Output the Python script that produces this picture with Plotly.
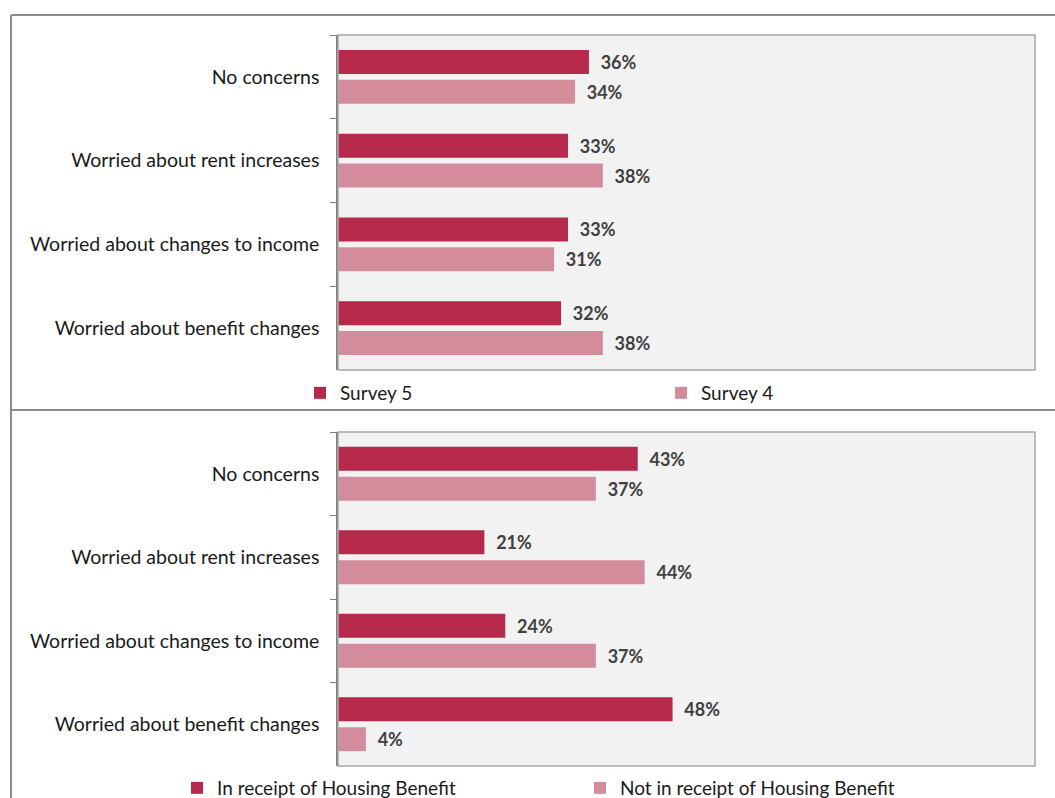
import plotly.graph_objects as go

categories = [
    "No concerns",
    "Worried about rent increases",
    "Worried about changes to income",
    "Worried about benefit changes",
]

survey5 = [36, 33, 33, 32]
survey4 = [34, 38, 31, 38]

in_receipt_hb = [43, 21, 24, 48]
not_in_receipt_hb = [37, 44, 37, 4]

DARK = "#b5294a"
LIGHT = "#d48c9d"
FONT = "Lato"

W, H = 1055, 798


def py(px):
    return 1 - px / H


def px_x(px):
    return px / W


fig = go.Figure()


def add_pair(names, series, xa, ya, legend):
    for name, vals, col in zip(names, series, (DARK, LIGHT)):
        fig.add_trace(go.Bar(
            y=categories, x=vals, name=name, orientation="h",
            marker=dict(color=col, line=dict(width=0)),
            text=[f"  {v}%" for v in vals], textposition="outside",
            textfont=dict(family=FONT, size=18, color="#404040", weight="bold"),
            cliponaxis=False, xaxis=xa, yaxis=ya, legend=legend,
            hoverinfo="skip",
        ))


add_pair(["Survey 5", "Survey 4"], [survey5, survey4], "x", "y", "legend")
add_pair(["In receipt of Housing Benefit", "Not in receipt of Housing Benefit"],
         [in_receipt_hb, not_in_receipt_hb], "x2", "y2", "legend2")

xdom = [px_x(338), px_x(1035)]
xaxis_common = dict(range=[0, 100], showticklabels=False, showgrid=False,
                    zeroline=False, showline=False, ticks="", domain=xdom)
yaxis_common = dict(autorange="reversed", showline=True, linecolor="#7f7f7f",
                    linewidth=1.5, ticks="outside", ticklen=6, tickwidth=1,
                    tickcolor="#7f7f7f", tickson="boundaries", showgrid=False,
                    tickfont=dict(family=FONT, size=19.5, color="#1a1a1a"),
                    ticklabelstandoff=13)

legend_font = dict(family=FONT, size=19, color="#1a1a1a")

fig.update_layout(
    width=W, height=H,
    margin=dict(l=0, r=0, t=0, b=0, autoexpand=False),
    paper_bgcolor="white", plot_bgcolor="#f2f2f2",
    barmode="group", bargap=0.284, bargroupgap=0.2,
    xaxis=dict(**xaxis_common, anchor="y"),
    yaxis=dict(**yaxis_common, domain=[py(370), py(35)], anchor="x"),
    xaxis2=dict(**xaxis_common, anchor="y2"),
    yaxis2=dict(**yaxis_common, domain=[py(766), py(432)], anchor="x2"),
    legend=dict(orientation="h", x=px_x(300), y=py(393), xanchor="left",
                yanchor="middle", entrywidth=316, entrywidthmode="pixels",
                itemwidth=30, font=legend_font, bgcolor="rgba(0,0,0,0)"),
    legend2=dict(orientation="h", x=px_x(177), y=py(788), xanchor="left",
                 yanchor="middle", entrywidth=358, entrywidthmode="pixels",
                 itemwidth=30, font=legend_font, bgcolor="rgba(0,0,0,0)"),
    showlegend=True,
)

shapes = []
# plot area borders
for xr, yr in (("x domain", "y domain"), ("x2 domain", "y2 domain")):
    shapes.append(dict(type="rect", xref=xr, yref=yr, x0=0, x1=1, y0=0, y1=1,
                       line=dict(color="#a6a6a6", width=1.5), layer="above"))
# outer frame lines
frame = dict(color="#8c8c8c", width=2)
shapes.append(dict(type="line", xref="paper", yref="paper",
                   x0=px_x(11), x1=1, y0=py(15), y1=py(15), line=frame))
shapes.append(dict(type="line", xref="paper", yref="paper",
                   x0=px_x(11), x1=1, y0=py(410), y1=py(410), line=frame))
shapes.append(dict(type="line", xref="paper", yref="paper",
                   x0=px_x(11), x1=px_x(11), y0=0, y1=py(15), line=frame))
fig.update_layout(shapes=shapes)

fig.write_html("out.html")
